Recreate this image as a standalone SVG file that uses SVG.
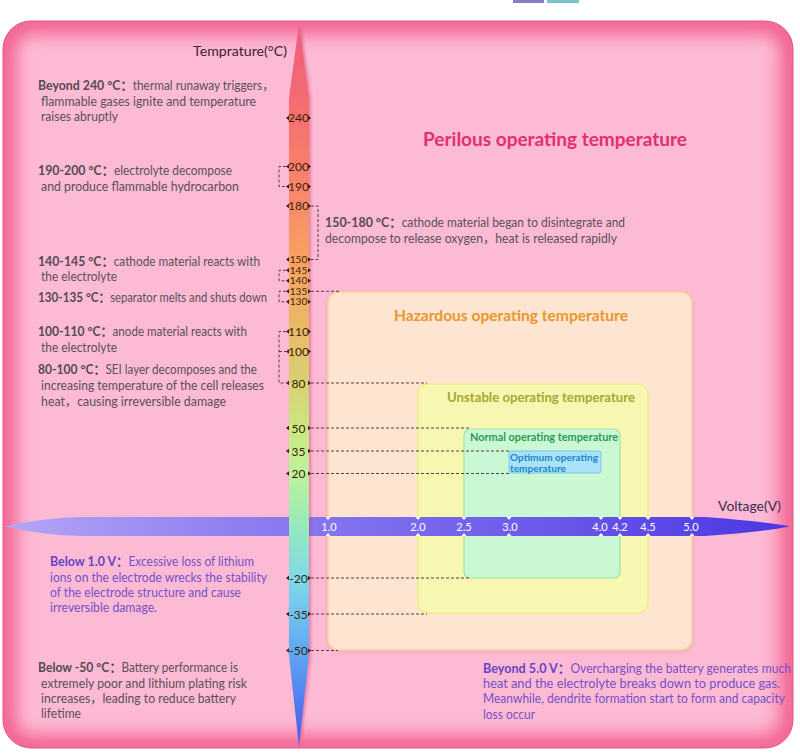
<svg xmlns="http://www.w3.org/2000/svg" width="800" height="754" viewBox="0 0 800 754">
<defs>
<style>
.t{font-family:Lato,"Liberation Sans","Noto Sans CJK SC",sans-serif;font-size:12.5px;fill:#5a505b}
.b{font-weight:bold;font-size:13px;fill:#534a53}
.pu{fill:#7550c8}
.pb{font-weight:bold;font-size:13px;fill:#6843c4}
.tk{font-family:Lato,"Liberation Sans",sans-serif;font-size:12px;fill:#3b1d0d;text-anchor:middle}
.tks{font-size:10px}
.vt{font-family:Lato,"Liberation Sans",sans-serif;font-size:11px;fill:#ffffff;text-anchor:middle}
.ttl{font-family:Lato,"Liberation Sans",sans-serif;font-weight:bold}
.dash{stroke:#5b3a48;stroke-width:1;stroke-dasharray:3 2;fill:none}
.tri{fill:#3b1d0d}
.wt{fill:#ffffff}
</style>
<clipPath id="bgclip"><rect x="3" y="21" width="790" height="727" rx="28"/></clipPath>
<filter id="glow" x="-10%" y="-10%" width="120%" height="120%"><feGaussianBlur stdDeviation="9"/></filter>
<filter id="sh" x="-20%" y="-20%" width="140%" height="140%"><feDropShadow dx="0" dy="1" stdDeviation="2" flood-color="#d08a70" flood-opacity="0.35"/></filter>
<filter id="barsh" x="-100%" y="-5%" width="300%" height="110%"><feDropShadow dx="2" dy="0" stdDeviation="1.5" flood-color="#c83a70" flood-opacity="0.45"/></filter>
<linearGradient id="tg" x1="0" y1="24" x2="0" y2="747" gradientUnits="userSpaceOnUse">
<stop offset="0" stop-color="#ef5c7c"/>
<stop offset="0.13" stop-color="#f6706f"/>
<stop offset="0.25" stop-color="#f98c67"/>
<stop offset="0.33" stop-color="#f9a262"/>
<stop offset="0.41" stop-color="#ebb765"/>
<stop offset="0.49" stop-color="#d9cf72"/>
<stop offset="0.56" stop-color="#cbe780"/>
<stop offset="0.62" stop-color="#bff29a"/>
<stop offset="0.69" stop-color="#98eab8"/>
<stop offset="0.77" stop-color="#7ed8ea"/>
<stop offset="0.86" stop-color="#62acf2"/>
<stop offset="0.93" stop-color="#5282f0"/>
<stop offset="1" stop-color="#4a58e6"/>
</linearGradient>
<linearGradient id="vg" x1="5" y1="0" x2="790" y2="0" gradientUnits="userSpaceOnUse">
<stop offset="0" stop-color="#b4a6f6"/>
<stop offset="0.3" stop-color="#8d7ef0"/>
<stop offset="0.7" stop-color="#6a58ea"/>
<stop offset="1" stop-color="#4a36e2"/>
</linearGradient>
<path id="tl" class="tri" d="M0,0 L3,-2.2 L3,2.2 Z"/>
<path id="tr" class="tri" d="M0,0 L-3,-2.2 L-3,2.2 Z"/>
<path id="vd" class="wt" d="M-2.5,0 L2.5,0 L0,3 Z"/>
<path id="vu" class="wt" d="M-2.5,0 L2.5,0 L0,-3 Z"/>
</defs>

<g id="legend-bars">
<rect x="513" y="0" width="31" height="3" fill="#8b7bc7"/>
<rect x="547" y="0" width="32" height="3" fill="#79c4d0"/>
</g>

<g id="background">
<rect x="3" y="21" width="790" height="727" rx="28" fill="#fdbad4"/>
<g clip-path="url(#bgclip)">
<rect x="3" y="21" width="790" height="727" rx="28" fill="none" stroke="#f2608f" stroke-width="26" filter="url(#glow)"/>
</g>
<rect x="3" y="21" width="790" height="727" rx="28" fill="none" stroke="#e2578a" stroke-width="1"/>
</g>

<g id="title-perilous">
<text class="ttl" x="423" y="146" font-size="18" fill="#e1306c" textLength="264" lengthAdjust="spacingAndGlyphs">Perilous operating temperature</text>
</g>

<g id="box-hazardous">
<rect x="328" y="292" width="364" height="358" rx="11" fill="#fde5d2" stroke="#fccf9e" stroke-width="1.5" filter="url(#sh)"/>
<text class="ttl" x="394" y="321" font-size="15" fill="#ea962c" textLength="234" lengthAdjust="spacingAndGlyphs">Hazardous operating temperature</text>
</g>
<g id="box-unstable">
<rect x="418" y="384" width="230" height="229" rx="10" fill="#f7f7b1" stroke="#f0ee84" stroke-width="1.5"/>
<text class="ttl" x="447" y="402" font-size="13" fill="#aaa632" textLength="188" lengthAdjust="spacingAndGlyphs">Unstable operating temperature</text>
</g>
<g id="box-normal">
<rect x="464" y="429" width="156" height="149" rx="6" fill="#cbf8d4" stroke="#9ce4a6" stroke-width="1.2"/>
<text class="ttl" x="470" y="441" font-size="11" fill="#2c9a52" textLength="148" lengthAdjust="spacingAndGlyphs">Normal operating temperature</text>
</g>
<g id="box-optimum">
<rect x="509" y="451" width="92" height="22" rx="2" fill="#aae3f8" stroke="#78c6e8" stroke-width="1"/>
<text class="ttl" x="510" y="461" font-size="9.5" fill="#1c86c6" textLength="88" lengthAdjust="spacingAndGlyphs">Optimum operating</text>
<text class="ttl" x="510" y="471.5" font-size="9.5" fill="#1c86c6" textLength="56" lengthAdjust="spacingAndGlyphs">temperature</text>
</g>

<g id="connectors">
<path class="dash" d="M286,166.5 H279 V186.5 H286"/>
<path class="dash" d="M311,206 H318 V259.5 H311"/>
<path class="dash" d="M286,270.3 H279 V280.8 H286"/>
<path class="dash" d="M286,291.3 H279 V301.8 H286"/>
<path class="dash" d="M286,331.5 H279 V383 H286 M279,351.5 H286"/>
<path class="dash" d="M311,291.3 H340"/>
<path class="dash" d="M311,383 H427"/>
<path class="dash" d="M311,428 H470"/>
<path class="dash" d="M311,451 H510"/>
<path class="dash" d="M311,473.5 H510" stroke="#7a6070"/>
<path class="dash" d="M311,578 H470"/>
<path class="dash" d="M311,614 H427"/>
<path class="dash" d="M311,650.5 H338"/>
</g>

<g id="voltage-axis">
<path d="M5,526.5 Q40,518 80,517 L705,517 Q760,521 790,526.5 Q760,532 705,536 L80,536 Q40,535 5,526.5 Z" fill="url(#vg)"/>
<g>
<use href="#vd" x="328" y="517"/><use href="#vu" x="328" y="536"/>
<use href="#vd" x="418" y="517"/><use href="#vu" x="418" y="536"/>
<use href="#vd" x="464" y="517"/><use href="#vu" x="464" y="536"/>
<use href="#vd" x="509" y="517"/><use href="#vu" x="509" y="536"/>
<use href="#vd" x="601" y="517"/><use href="#vu" x="601" y="536"/>
<use href="#vd" x="620" y="517"/><use href="#vu" x="620" y="536"/>
<use href="#vd" x="648" y="517"/><use href="#vu" x="648" y="536"/>
<use href="#vd" x="692" y="517"/><use href="#vu" x="692" y="536"/>
</g>
<text class="vt" x="329" y="531">1.0</text>
<text class="vt" x="418" y="531">2.0</text>
<text class="vt" x="464" y="531">2.5</text>
<text class="vt" x="510" y="531">3.0</text>
<text class="vt" x="600" y="531">4.0</text>
<text class="vt" x="620" y="531">4.2</text>
<text class="vt" x="648" y="531">4.5</text>
<text class="vt" x="691" y="531">5.0</text>
<text x="718" y="511" font-family="Lato,'Liberation Sans',sans-serif" font-size="13" fill="#3a2a52" textLength="63" lengthAdjust="spacingAndGlyphs">Voltage(V)</text>
</g>

<g id="temperature-axis">
<path d="M299,24 L309,98 L309,655 L299,747 L289,655 L289,98 Z" fill="url(#tg)" filter="url(#barsh)"/>
<text x="193" y="56" font-family="Lato,'Liberation Sans',sans-serif" font-size="13" fill="#41202f" textLength="94" lengthAdjust="spacingAndGlyphs">Temprature(°C)</text>
<g>
<text class="tk" x="298.5" y="122.2">240</text><use href="#tl" x="286" y="118"/><use href="#tr" x="311" y="118"/>
<text class="tk" x="298.5" y="170.7">200</text><use href="#tl" x="286" y="166.5"/><use href="#tr" x="311" y="166.5"/>
<text class="tk" x="298.5" y="190.7">190</text><use href="#tl" x="286" y="186.5"/><use href="#tr" x="311" y="186.5"/>
<text class="tk" x="298.5" y="210.2">180</text><use href="#tl" x="286" y="206"/><use href="#tr" x="311" y="206"/>
<text class="tk tks" x="298.5" y="263.1">150</text><use href="#tl" x="286" y="259.5"/><use href="#tr" x="311" y="259.5"/>
<text class="tk tks" x="298.5" y="273.9">145</text><use href="#tl" x="286" y="270.3"/><use href="#tr" x="311" y="270.3"/>
<text class="tk tks" x="298.5" y="284.4">140</text><use href="#tl" x="286" y="280.8"/><use href="#tr" x="311" y="280.8"/>
<text class="tk tks" x="298.5" y="294.9">135</text><use href="#tl" x="286" y="291.3"/><use href="#tr" x="311" y="291.3"/>
<text class="tk tks" x="298.5" y="305.4">130</text><use href="#tl" x="286" y="301.8"/><use href="#tr" x="311" y="301.8"/>
<text class="tk" x="298.5" y="335.7">110</text><use href="#tl" x="286" y="331.5"/><use href="#tr" x="311" y="331.5"/>
<text class="tk" x="298.5" y="355.7">100</text><use href="#tl" x="286" y="351.5"/><use href="#tr" x="311" y="351.5"/>
<text class="tk" x="298.5" y="387.5" font-size="13">80</text><use href="#tl" x="286" y="383"/><use href="#tr" x="311" y="383"/>
<text class="tk" x="298.5" y="432.5" font-size="13">50</text><use href="#tl" x="286" y="428"/><use href="#tr" x="311" y="428"/>
<text class="tk" x="298.5" y="455.5" font-size="13">35</text><use href="#tl" x="286" y="451"/><use href="#tr" x="311" y="451"/>
<text class="tk" x="298.5" y="478" font-size="13">20</text><use href="#tl" x="286" y="473.5"/><use href="#tr" x="311" y="473.5"/>
<text class="tk" x="298.5" y="582.5" font-size="13">-20</text><use href="#tl" x="286" y="578"/><use href="#tr" x="311" y="578"/>
<text class="tk" x="298.5" y="618.5" font-size="13">-35</text><use href="#tl" x="286" y="614"/><use href="#tr" x="311" y="614"/>
<text class="tk" x="298.5" y="655" font-size="13">-50</text><use href="#tl" x="286" y="650.5"/><use href="#tr" x="311" y="650.5"/>
</g>
</g>

<g id="notes">
<text class="t" x="38" y="90" textLength="236" lengthAdjust="spacingAndGlyphs"><tspan class="b">Beyond 240 °C：</tspan>thermal runaway triggers，</text>
<text class="t" x="41" y="105.5" textLength="215" lengthAdjust="spacingAndGlyphs">flammable gases ignite and temperature</text>
<text class="t" x="41" y="121" textLength="77" lengthAdjust="spacingAndGlyphs">raises abruptly</text>

<text class="t" x="38" y="175" textLength="194" lengthAdjust="spacingAndGlyphs"><tspan class="b">190-200 °C：</tspan>electrolyte decompose</text>
<text class="t" x="41" y="190.5" textLength="198" lengthAdjust="spacingAndGlyphs">and produce flammable hydrocarbon</text>

<text class="t" x="325" y="227" textLength="300" lengthAdjust="spacingAndGlyphs"><tspan class="b">150-180 °C：</tspan>cathode material began to disintegrate and</text>
<text class="t" x="325" y="242.5" textLength="292" lengthAdjust="spacingAndGlyphs">decompose to release oxygen，heat is released rapidly</text>

<text class="t" x="38" y="266" textLength="222" lengthAdjust="spacingAndGlyphs"><tspan class="b">140-145 °C：</tspan>cathode material reacts with</text>
<text class="t" x="41" y="281" textLength="76" lengthAdjust="spacingAndGlyphs">the electrolyte</text>

<text class="t" x="38" y="301.5" textLength="229" lengthAdjust="spacingAndGlyphs"><tspan class="b">130-135 °C：</tspan>separator melts and shuts down</text>

<text class="t" x="38" y="336" textLength="209" lengthAdjust="spacingAndGlyphs"><tspan class="b">100-110 °C：</tspan>anode material reacts with</text>
<text class="t" x="41" y="352" textLength="76" lengthAdjust="spacingAndGlyphs">the electrolyte</text>

<text class="t" x="38" y="374" textLength="219" lengthAdjust="spacingAndGlyphs"><tspan class="b">80-100 °C：</tspan>SEI layer decomposes and the</text>
<text class="t" x="41" y="390" textLength="223" lengthAdjust="spacingAndGlyphs">increasing temperature of the cell releases</text>
<text class="t" x="41" y="405.5" textLength="185" lengthAdjust="spacingAndGlyphs">heat，causing irreversible damage</text>

<text class="t pu" x="50" y="566" textLength="204" lengthAdjust="spacingAndGlyphs"><tspan class="pb">Below 1.0 V：</tspan>Excessive loss of lithium</text>
<text class="t pu" x="50" y="581.5" textLength="217" lengthAdjust="spacingAndGlyphs">ions on the electrode wrecks the stability</text>
<text class="t pu" x="50" y="596.5" textLength="191" lengthAdjust="spacingAndGlyphs">of the electrode structure and cause</text>
<text class="t pu" x="50" y="611.5" textLength="107" lengthAdjust="spacingAndGlyphs">irreversible damage.</text>

<text class="t" x="38" y="672" textLength="200" lengthAdjust="spacingAndGlyphs"><tspan class="b">Below -50 °C：</tspan>Battery performance is</text>
<text class="t" x="41" y="687.5" textLength="206" lengthAdjust="spacingAndGlyphs">extremely poor and lithium plating risk</text>
<text class="t" x="41" y="703" textLength="195" lengthAdjust="spacingAndGlyphs">increases，leading to reduce battery</text>
<text class="t" x="41" y="718" textLength="40" lengthAdjust="spacingAndGlyphs">lifetime</text>

<text class="t pu" x="483" y="672.5" textLength="308" lengthAdjust="spacingAndGlyphs"><tspan class="pb">Beyond 5.0 V：</tspan>Overcharging the battery generates much</text>
<text class="t pu" x="483" y="687.5" textLength="297" lengthAdjust="spacingAndGlyphs">heat and the electrolyte breaks down to produce gas.</text>
<text class="t pu" x="483" y="703" textLength="302" lengthAdjust="spacingAndGlyphs">Meanwhile, dendrite formation start to form and capacity</text>
<text class="t pu" x="483" y="718.5" textLength="52" lengthAdjust="spacingAndGlyphs">loss occur</text>
</g>
</svg>
